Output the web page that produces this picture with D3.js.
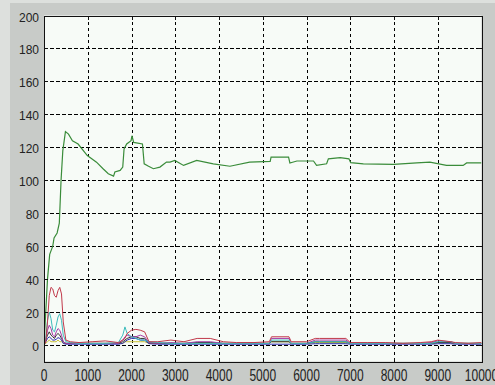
<!DOCTYPE html>
<html>
<head>
<meta charset="utf-8">
<script src="https://cdn.jsdelivr.net/npm/d3@7"></script>
<style>
  body { margin: 0; background: #c8cbc8; }
  svg { display: block; }
</style>
</head>
<body>
<div id="chart"></div>
<script>
var width = 495
var height = 385

// tick values
var xTicks = [0, 1000, 2000, 3000, 4000, 5000, 6000, 7000, 8000, 9000, 10000]
var yTicks = [0, 20, 40, 60, 80, 100, 120, 140, 160, 180, 200]

// big green trace
var greenX = [0, 40, 80, 130, 200, 230, 300, 350, 390, 430, 490, 560, 650, 780, 990, 1200, 1350, 1470, 1590, 1620,
    1740, 1800, 1830, 1890, 1990, 2010, 2050, 2250, 2290, 2390, 2500, 2650, 2800, 2880, 2990, 3190, 3490, 3870, 4250, 4700,
    5170, 5190, 5590, 5620, 5780, 6160, 6230, 6460, 6500, 6770, 6970, 7010, 7300, 7990, 8520, 8820, 9200, 9580, 9660, 10000]
var greenY = [0, 20, 40, 55, 60, 65, 68, 74, 100, 118, 129.5, 128, 124, 122, 115, 111, 107, 104, 102.5, 105,
    106, 108, 119, 122, 124, 127, 123, 122, 110, 108.5, 107, 108, 111, 111, 112, 109, 112, 110, 108.5, 111,
    111.5, 114, 114, 110.5, 111.7, 111.7, 109, 110, 113, 113.7, 113, 110.7, 110, 109.7, 110.5, 111, 109, 109, 110.5, 110.5]

// small traces near zero, shared x grid
var smallX = [0, 40, 80, 120, 160, 200, 240, 280, 320, 360,
    400, 440, 500, 600, 800, 1100, 1400, 1700, 1800, 1850,
    1900, 2000, 2100, 2200, 2300, 2400, 2600, 2900, 3200, 3500,
    3800, 4100, 4400, 4800, 5150, 5200, 5600, 5650, 6000, 6200,
    6300, 6900, 7000, 7400, 7800, 8200, 8600, 8850, 9000, 9300,
    9400, 9700, 10000]
var yellowY = [0, 1, 2, 3, 2, 2, 2, 2, 3, 2,
    2, 1, 1, 1, 1, 1, 1, 1, 1, 2,
    2, 2, 2, 2, 2, 1, 1, 1, 1, 1,
    1, 1, 1, 1, 1, 2, 2, 1, 1, 1.5,
    1.5, 1.5, 1, 1, 1, 1, 1, 1, 1.5, 1.5,
    1, 1, 1]
var blueY = [0, 2, 4, 5, 4, 3, 3, 3.5, 4.5, 4,
    3, 1, 0.5, 0.5, 0.5, 0.5, 0.5, 0.5, 1, 2,
    3, 4, 4, 3, 3, 0.8, 0.5, 0.5, 0.5, 0.5,
    0.5, 0.5, 0.5, 0.5, 0.5, 0.5, 0.5, 0.5, 0.5, 0.8,
    0.8, 0.8, 0.5, 0.5, 0.5, 0.5, 0.5, 0.5, 0.8, 0.8,
    0.5, 0.5, 0.5]
var blackY = [0, 3, 6, 8, 6, 5, 4, 6, 7, 6,
    4, 2, 1, 1, 1, 1, 1, 1, 2, 3,
    4, 5, 5, 4, 4, 1.5, 1, 1, 1, 1.5,
    1.5, 1, 1, 1, 1, 2, 2, 1, 1, 2,
    2, 2, 1, 1, 1, 1, 1, 1, 1.5, 1.5,
    1, 1, 1]
var magentaY = [0, 3, 9, 12, 10, 6, 5, 8, 10, 9,
    6, 2, 1, 1, 1, 1, 1, 1, 3, 5,
    6, 5, 5, 6, 5, 1.5, 1, 1.5, 1, 2,
    2, 1, 1, 1, 1, 4, 4, 1, 1, 3,
    3, 3, 1, 1, 1, 1, 1, 1.5, 2.5, 2,
    1, 1, 1]
var cyanY = [0, 4, 15, 20, 16, 9, 8, 12, 17, 19,
    15, 6, 2, 1.5, 1, 1, 1, 1.5, 6, 11,
    7, 5, 4, 3, 3, 2, 1.5, 1, 1, 1,
    1, 1, 1, 1, 1, 3, 3, 1, 1, 2,
    2, 2, 1, 1, 1, 1, 1, 1, 2, 2,
    1, 1, 1]
var redY = [0, 2, 14, 30, 35, 34, 30, 29, 33, 35,
    31, 14, 3, 2, 1.5, 2, 2.5, 1.5, 3, 4,
    7, 9, 9.5, 9, 8, 2, 2, 3, 2, 4,
    4, 2, 1.5, 1.5, 2, 5, 5, 2, 2, 4,
    4, 4, 1.5, 1.5, 1.5, 1, 1.5, 2, 3, 2,
    1.5, 1, 1.5]

var smallSeries = [
    { name: 'yellow', color: '#c8c030', y: yellowY },
    { name: 'blue', color: '#2a2ab0', y: blueY },
    { name: 'black', color: '#333333', y: blackY },
    { name: 'magenta', color: '#a63aa6', y: magentaY },
    { name: 'cyan', color: '#3cbcbc', y: cyanY },
    { name: 'red', color: '#c0394a', y: redY }
]

const svg = d3.select('#chart')
    .append('svg')
    .attr('width', width)
    .attr('height', height)

// figure background (lighter outer strip, grey panel)
svg.append('rect').attr('width', width).attr('height', height).attr('fill', '#dde0dd')
svg.append('rect').attr('x', 10).attr('y', 3).attr('width', width - 10).attr('height', height - 3).attr('fill', '#c8cbc8')

var x = d3.scaleLinear().domain([0, 10000]).range([44, 481.5])
var y = d3.scaleLinear().domain([-10, 200]).range([361.5, 15.5])

var axLeft = x(0), axRight = x(10000), axTop = y(200), axBottom = y(-10)

svg.append('rect')
    .attr('x', axLeft).attr('y', axTop)
    .attr('width', axRight - axLeft).attr('height', axBottom - axTop)
    .attr('fill', '#f7fbf7')

svg.append('clipPath').attr('id', 'clip')
    .append('rect')
    .attr('x', axLeft).attr('y', axTop)
    .attr('width', axRight - axLeft).attr('height', axBottom - axTop)

// grid
var grid = svg.append('g').attr('shape-rendering', 'crispEdges')
grid.selectAll('.vgrid')
    .data(xTicks.filter(d => d > 0 && d < 10000))
    .join('line')
    .attr('x1', d => Math.round(x(d)) + 0.5).attr('x2', d => Math.round(x(d)) + 0.5)
    .attr('y1', axTop).attr('y2', axBottom)
    .attr('stroke', '#000').attr('stroke-dasharray', '3,3')
grid.selectAll('.hgrid')
    .data(yTicks.filter(d => d < 200))
    .join('line')
    .attr('x1', axLeft).attr('x2', axRight)
    .attr('y1', d => Math.round(y(d)) + 0.5).attr('y2', d => Math.round(y(d)) + 0.5)
    .attr('stroke', '#000').attr('stroke-dasharray', '4,2')

// traces
var plot = svg.append('g').attr('clip-path', 'url(#clip)')
var line = d3.line()
    .x(d => x(d[0]))
    .y(d => y(d[1]))

smallSeries.forEach(s => {
    plot.append('path')
        .datum(smallX.map((v, i) => [v, s.y[i]]))
        .attr('d', line)
        .attr('fill', 'none')
        .attr('stroke', s.color)
        .attr('stroke-width', 1)
})

plot.append('path')
    .datum(greenX.map((v, i) => [v, greenY[i]]))
    .attr('d', line)
    .attr('fill', 'none')
    .attr('stroke', '#3a8c3a')
    .attr('stroke-width', 1.2)

// box
svg.append('rect')
    .attr('x', Math.round(axLeft) + 0.5).attr('y', Math.round(axTop) + 0.5)
    .attr('width', Math.round(axRight) - Math.round(axLeft)).attr('height', Math.round(axBottom) - Math.round(axTop))
    .attr('fill', 'none').attr('stroke', '#111').attr('shape-rendering', 'crispEdges')

// inward ticks
var ticks = svg.append('g').attr('stroke', '#111').attr('shape-rendering', 'crispEdges')
xTicks.forEach(t => {
    var px = Math.round(x(t)) + 0.5
    ticks.append('line').attr('x1', px).attr('x2', px).attr('y1', axBottom).attr('y2', axBottom - 4)
    ticks.append('line').attr('x1', px).attr('x2', px).attr('y1', axTop).attr('y2', axTop + 4)
})
yTicks.forEach(t => {
    var py = Math.round(y(t)) + 0.5
    ticks.append('line').attr('x1', axLeft).attr('x2', axLeft + 4).attr('y1', py).attr('y2', py)
    ticks.append('line').attr('x1', axRight).attr('x2', axRight - 4).attr('y1', py).attr('y2', py)
})

// tick labels
svg.append('g')
    .selectAll('text')
    .data(yTicks)
    .join('text')
    .attr('x', axLeft - 5)
    .attr('y', d => y(d) + 6)
    .attr('text-anchor', 'end')
    .attr('font-family', 'Liberation Sans, Arial, sans-serif')
    .attr('font-size', '12px')
    .attr('fill', '#222')
    .text(d => d)

svg.append('g')
    .selectAll('text')
    .data(xTicks)
    .join('text')
    .attr('transform', d => `translate(${x(d)},381) scale(1,1.35)`)
    .attr('text-anchor', 'middle')
    .attr('font-family', 'Liberation Sans, Arial, sans-serif')
    .attr('font-size', '12px')
    .attr('fill', '#222')
    .text(d => d)
</script>
</body>
</html>
